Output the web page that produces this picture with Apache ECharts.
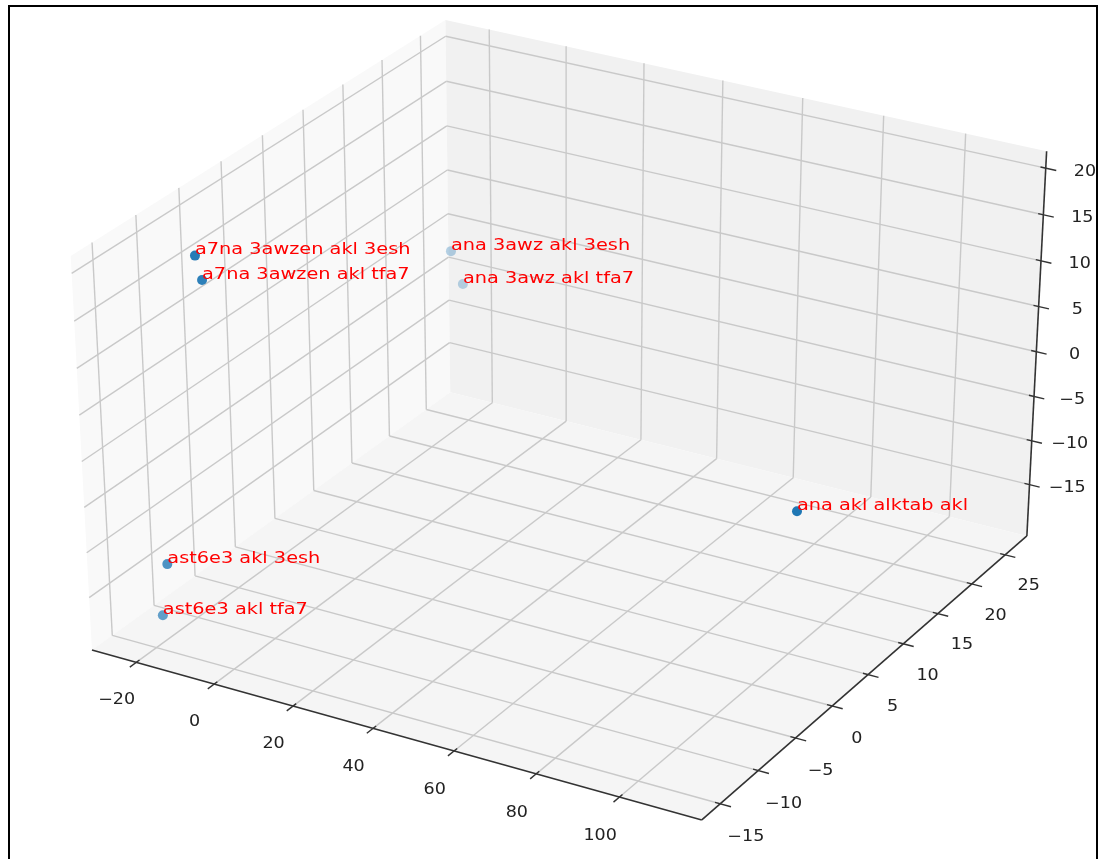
<!DOCTYPE html>
<html>
<head>
<meta charset="utf-8">
<title>3D scatter</title>
<script src="https://cdn.jsdelivr.net/npm/echarts@6/dist/echarts.min.js"></script>
<style>
  html, body { margin: 0; padding: 0; background: #fff; }
  #chart { width: 1102px; height: 859px; }
</style>
</head>
<body>
<div id="chart"></div>
<script>
// sentences and their 3d positions
const words = ['a7na 3awzen akl 3esh', 'a7na 3awzen akl tfa7', 'ana 3awz akl 3esh', 'ana 3awz akl tfa7',
  'ana akl alktab akl', 'ast6e3 akl 3esh', 'ast6e3 akl tfa7'];
const xVals = [-14.5, -14.3, -24.6, -22.1, 112.6, -15.5, -22.7];
const yVals = [-11.1, -10.5, 25.2, 25.5, -1.6, -15.3, -12.9];
const zVals = [19.9, 17.0, -1.8, -5.5, 0.7, -10.8, -19.0];

const xTicks = [-20, 0, 20, 40, 60, 80, 100];
const yTicks = [-15, -10, -5, 0, 5, 10, 15, 20, 25];
const zTicks = [-15, -10, -5, 0, 5, 10, 15, 20];

// pane box extents
const xLim = [-31.5, 119.5];
const yLim = [-17.4, 28.3];
const zLim = [-20.9, 21.8];

// view (matplotlib default elev 30, azim -60)
const deg = Math.PI / 180;
const elev = 30 * deg, azim = -60 * deg, dist = 10;
const boxAspect = [4 / 3.5, 4 / 3.5, 3 / 3.5];
const nv = [Math.cos(elev) * Math.cos(azim), Math.cos(elev) * Math.sin(azim), Math.sin(elev)];
let uv = [-nv[1], nv[0], 0];
const ul = Math.hypot(uv[0], uv[1]);
uv = [uv[0] / ul, uv[1] / ul, 0];
const vv = [nv[1] * uv[2] - nv[2] * uv[1], nv[2] * uv[0] - nv[0] * uv[2], nv[0] * uv[1] - nv[1] * uv[0]];

// projected plane -> page
const W = 1102, H = 859;
const OX = 567.7, SX = 6115, OY = 401.5, SY = 5242;

const dot = (a, b) => a[0] * b[0] + a[1] * b[1] + a[2] * b[2];
function toBox(x, y, z) {
  return [
    ((x - xLim[0]) / (xLim[1] - xLim[0]) - 0.5) * boxAspect[0],
    ((y - yLim[0]) / (yLim[1] - yLim[0]) - 0.5) * boxAspect[1],
    ((z - zLim[0]) / (zLim[1] - zLim[0]) - 0.5) * boxAspect[2]
  ];
}
function project(x, y, z) {
  const d = toBox(x, y, z);
  const w = dist - dot(nv, d);
  return [dot(uv, d) / w, dot(vv, d) / w, -dist / w];
}

const fmt = v => String(v).replace('-', '\u2212');
const STRETCH = 1.17;

function renderAxes(params, api) {
  const P = (x, y, z) => api.coord(project(x, y, z));
  const [x0, x1] = xLim, [y0, y1] = yLim, [z0, z1] = zLim;
  const rx = x1 - x0, ry = y1 - y0, rz = z1 - z0;
  const out = [];
  const poly = (pts, fill) => out.push({ type: 'polygon', shape: { points: pts }, style: { fill: fill } });
  const seg = (a, b, stroke, w) => out.push({
    type: 'line', shape: { x1: a[0], y1: a[1], x2: b[0], y2: b[1] }, style: { stroke: stroke, lineWidth: w }
  });
  // tick labels sit a little lower / left of the projected anchor
  const txt = (p, s) => out.push({
    type: 'text', x: p[0] - 3, y: p[1] + 8, scaleX: STRETCH,
    style: { text: s, fill: '#222', fontSize: 15, fontFamily: 'DejaVu Sans', align: 'center', verticalAlign: 'middle' }
  });

  // panes
  poly([P(x0, y0, z0), P(x0, y1, z0), P(x0, y1, z1), P(x0, y0, z1)], '#f9f9f9');
  poly([P(x0, y1, z0), P(x1, y1, z0), P(x1, y1, z1), P(x0, y1, z1)], '#f1f1f1');
  poly([P(x0, y0, z0), P(x1, y0, z0), P(x1, y1, z0), P(x0, y1, z0)], '#f5f5f5');

  // grid
  const gc = '#c9c9c9', gw = 1.4;
  xTicks.forEach(t => { seg(P(t, y0, z0), P(t, y1, z0), gc, gw); seg(P(t, y1, z0), P(t, y1, z1), gc, gw); });
  yTicks.forEach(t => { seg(P(x0, t, z0), P(x1, t, z0), gc, gw); seg(P(x0, t, z0), P(x0, t, z1), gc, gw); });
  zTicks.forEach(t => { seg(P(x0, y0, t), P(x0, y1, t), gc, gw); seg(P(x0, y1, t), P(x1, y1, t), gc, gw); });

  // axis lines
  const ac = '#333', aw = 1.6;
  seg(P(x0, y0, z0), P(x1, y0, z0), ac, aw);
  seg(P(x1, y0, z0), P(x1, y1, z0), ac, aw);
  seg(P(x1, y1, z0), P(x1, y1, z1), ac, aw);

  // ticks and tick labels
  const tOut = 0.2 / 12, tIn = 0.1 / 12, k = 0.045;
  xTicks.forEach(t => {
    seg(P(t, y0 - tOut * ry, z0), P(t, y0 + tIn * ry, z0), ac, 1.4);
    txt(P(t, y0 - k * ry, z0 - k * rz), fmt(t));
  });
  yTicks.forEach(t => {
    seg(P(x1 + tOut * rx, t, z0), P(x1 - tIn * rx, t, z0), ac, 1.4);
    txt(P(x1 + k * rx, t, z0 - k * rz), fmt(t));
  });
  zTicks.forEach(t => {
    seg(P(x1 + tOut * rx, y1, t), P(x1 - tIn * rx, y1, t), ac, 1.4);
    txt(P(x1 + k * rx, y1 + k * ry, t), fmt(t));
  });
  return { type: 'group', children: out };
}

// projected points and depth shading
const proj = words.map((w, i) => project(xVals[i], yVals[i], zVals[i]));
const depths = proj.map(p => p[2]);
const dMin = Math.min(...depths), dMax = Math.max(...depths);
const pointData = proj.map((p, i) => ({
  value: [p[0], p[1], i],
  itemStyle: { opacity: 1 - 0.7 * (p[2] - dMin) / (dMax - dMin) }
}));

function renderLabel(params, api) {
  const p = api.coord([api.value(0), api.value(1)]);
  const fs = 16.5;
  return {
    type: 'text', x: p[0], y: p[1] - 0.35 * fs, scaleX: STRETCH,
    style: { text: words[api.value(2)], fill: 'red', fontSize: fs, fontFamily: 'DejaVu Sans', align: 'left', verticalAlign: 'middle' }
  };
}

const chart = echarts.init(document.getElementById('chart'), null, { renderer: 'canvas' });
chart.setOption({
  animation: false,
  backgroundColor: '#fff',
  grid: { left: 0, right: 0, top: 0, bottom: 0 },
  xAxis: { type: 'value', min: -OX / SX, max: (W - OX) / SX, show: false },
  yAxis: { type: 'value', min: (OY - H) / SY, max: OY / SY, show: false },
  graphic: [{
    type: 'rect', z: 100, shape: { x: 9, y: 6, width: 1088, height: 870 },
    style: { fill: 'none', stroke: '#000', lineWidth: 2 }
  }],
  series: [
    { type: 'custom', renderItem: renderAxes, data: [[0, 0]], silent: true, z: 1 },
    {
      type: 'scatter', data: pointData, symbol: 'circle', symbolSize: 10,
      itemStyle: { color: '#1f77b4' }, silent: true, z: 2
    },
    { type: 'custom', renderItem: renderLabel, data: pointData.map(d => d.value), silent: true, z: 3 }
  ]
});
</script>
</body>
</html>
